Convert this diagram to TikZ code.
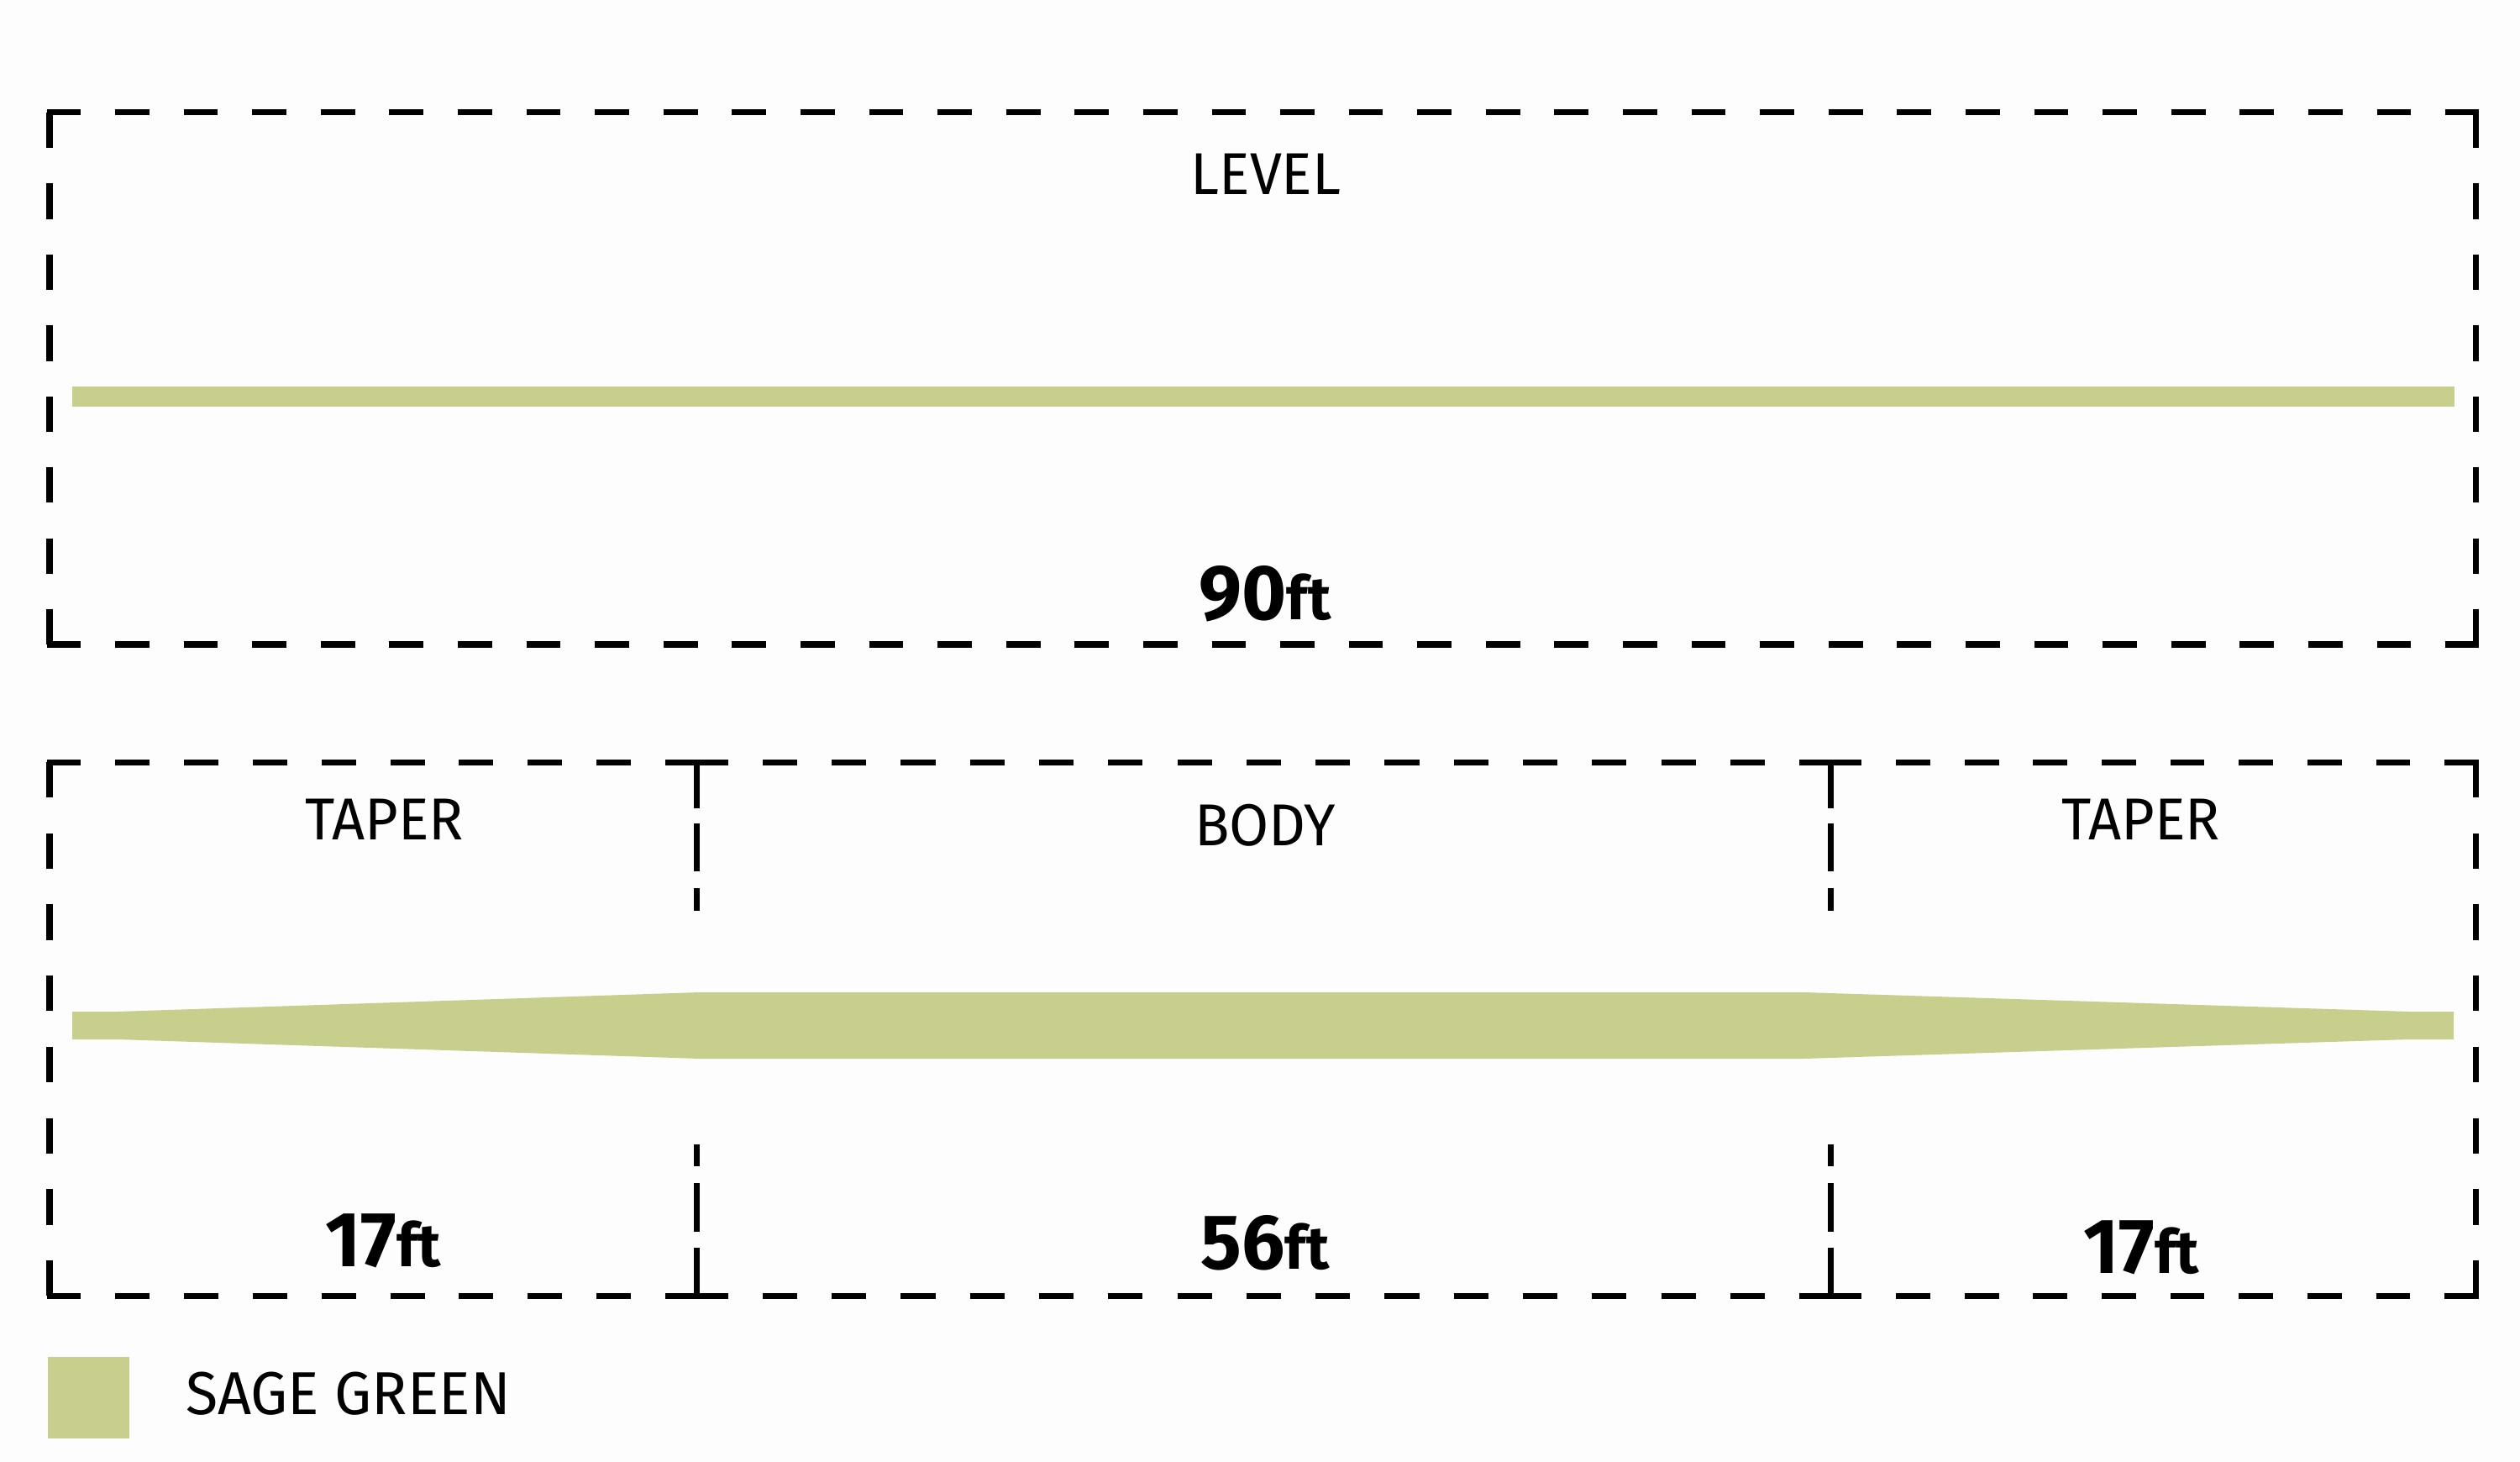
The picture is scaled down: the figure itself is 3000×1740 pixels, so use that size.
\documentclass[tikz,border=0pt]{standalone}
\usepackage{fontspec}
\setmainfont{Fira Sans}[FakeStretch=0.97]
\newfontfamily\numfont{Fira Sans}[FakeStretch=0.98]
\definecolor{sage}{RGB}{200,207,140}
\definecolor{bgc}{RGB}{253,253,253}
\tikzset{
  frame/.style={line width=0.07cm, black, line cap=butt},
  lbl/.style={anchor=base, inner sep=0pt, font=\fontsize{20}{24}\selectfont},
  num/.style={anchor=base, inner sep=0pt, font=\numfont\bfseries\fontsize{26.4}{30}\selectfont},
}
\newcommand\unitft{{\fontsize{20.5}{22}\selectfont ft}}
\begin{document}
\begin{tikzpicture}[x=0.01cm, y=-0.01cm]
\useasboundingbox (0,0) rectangle (3000,1740);
\fill[bgc] (0,0) rectangle (3000,1740);

% ---------- top box (LEVEL) ----------
\draw[frame, dash pattern=on 0.4077cm off 0.4077cm] (55.5,134) -- (2950.5,134);
\draw[frame, dash pattern=on 0.4077cm off 0.4077cm] (55.5,767) -- (2950.5,767);
\draw[frame, dash pattern=on 0.422cm off 0.422cm] (59,134) -- (59,767);
\draw[frame, dash pattern=on 0.422cm off 0.422cm] (2947,134) -- (2947,767);

\fill[sage] (86,460) rectangle (2922,484);

\node[lbl] (level) at (1507,232) {LEVEL};
\node[num] (ninety) at (1506,738) {90\unitft};

% ---------- bottom box ----------
\draw[frame, dash pattern=on 0.4089cm off 0.4089cm] (55.5,907) -- (832.5,907);
\draw[frame, dash pattern=on 0.4112cm off 0.4112cm] (825.5,907) -- (2182.5,907);
\draw[frame, dash pattern=on 0.4079cm off 0.4079cm] (2175.5,907) -- (2950.5,907);
\draw[frame, dash pattern=on 0.4089cm off 0.4089cm] (55.5,1542) -- (832.5,1542);
\draw[frame, dash pattern=on 0.4112cm off 0.4112cm] (825.5,1542) -- (2182.5,1542);
\draw[frame, dash pattern=on 0.4079cm off 0.4079cm] (2175.5,1542) -- (2950.5,1542);
\draw[frame, dash pattern=on 0.4233cm off 0.4233cm] (59,907) -- (59,1542);
\draw[frame, dash pattern=on 0.4233cm off 0.4233cm] (2947,907) -- (2947,1542);

% dividers
\foreach \dx in {829,2179}{
  \draw[frame] (\dx,907) -- (\dx,962) (\dx,980) -- (\dx,1037) (\dx,1057) -- (\dx,1084);
  \draw[frame] (\dx,1362) -- (\dx,1388) (\dx,1408) -- (\dx,1466) (\dx,1485) -- (\dx,1542);
}

% tapered line
\fill[sage] (86,1204) -- (140,1204) -- (833,1181) -- (2147,1181) -- (2868,1204) -- (2921,1204)
  -- (2921,1237) -- (2868,1237) -- (2147,1260) -- (833,1260) -- (140,1237) -- (86,1237) -- cycle;

\node[lbl] (taperL) at (458,999) {TAPER};
\node[lbl] (body) at (1506,1006) {BODY};
\node[lbl] (taperR) at (2549,999) {TAPER};

\node[num] (seventeenL) at (456,1507) {17\unitft};
\node[num] (fiftysix) at (1506,1510) {56\unitft};
\node[num] (seventeenR) at (2549,1515) {17\unitft};

% legend
\fill[sage] (57,1615) rectangle (154,1712);
\node[lbl, anchor=base west, font=\fontsize{20.5}{24}\selectfont] (legend) at (221,1683) {SAGE GREEN};
\end{tikzpicture}
\end{document}
